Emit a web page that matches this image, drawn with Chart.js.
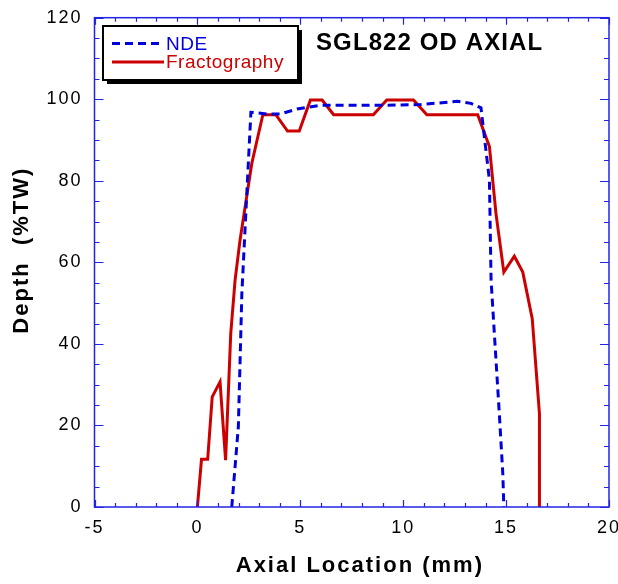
<!DOCTYPE html>
<html>
<head>
<meta charset="utf-8">
<script src="https://cdn.jsdelivr.net/npm/chart.js@4.4.1/dist/chart.umd.min.js"></script>
<style>
  html, body { margin: 0; padding: 0; background: #ffffff; }
  #wrap { width: 618px; height: 584px; }
</style>
</head>
<body>
<div id="wrap"><canvas id="c" width="618" height="584"></canvas></div>
<script>
// ---- data ----
const chartTitle = 'SGL822 OD AXIAL';
const xAxisTitle = '  Axial Location (mm)';
const yAxisTitle = '   Depth  (%TW)';
const seriesNames = ['NDE', 'Fractography'];

const ndeX = [1.67, 1.99, 2.16, 2.40, 2.60, 3.38, 4.02, 4.84, 5.98, 8.90, 10.85, 12.64, 13.29, 13.78, 14.19, 14.27, 14.43, 14.67, 14.84, 14.89];
const ndeY = [0, 19.7, 52.3, 76.8, 96.8, 96.4, 96.4, 97.6, 98.5, 98.5, 98.7, 99.5, 99.0, 97.9, 80.1, 55.6, 42.5, 22.9, 8.2, 0];

const fracX = [0.0, 0.2, 0.5, 0.72, 1.1, 1.37, 1.62, 1.83, 2.07, 2.64, 3.18, 3.81, 4.38, 4.95, 5.49, 6.06, 6.62, 8.55, 9.2, 10.5, 11.15, 13.62, 14.19, 14.51, 14.89, 15.4, 15.81, 16.27, 16.62, 16.62];
const fracY = [0, 11.7, 11.7, 27.0, 30.7, 11.5, 42.5, 55.6, 65.4, 84.2, 96.2, 96.2, 92.2, 92.2, 99.8, 99.8, 96.2, 96.2, 99.8, 99.8, 96.2, 96.2, 88.4, 71.9, 57.6, 61.5, 57.6, 46.2, 22.9, 0];

const xMin = -5, xMax = 20, xMajor = 5, xMinor = 1;
const yMin = 0, yMax = 120, yMajor = 20, yMinor = 5;

const FONT = '"Liberation Sans", Arial, Helvetica, sans-serif';
const FRAME = '#2323e6';
const BLUE = '#0000dd';
const RED = '#cc0000';

const toPts = (xs, ys) => xs.map((x, i) => ({ x: x, y: ys[i] }));

const framePlugin = {
  id: 'frameTicks',
  beforeDraw(chart) {
    chart.ctx.letterSpacing = '2px';
  },
  afterDatasetsDraw(chart) {
    const ctx = chart.ctx;
    const a = chart.chartArea;
    const xs = chart.scales.x, ys = chart.scales.y;
    ctx.save();
    ctx.strokeStyle = FRAME;
    ctx.lineWidth = 1.5;
    ctx.strokeRect(a.left, a.top, a.right - a.left, a.bottom - a.top);
    ctx.lineWidth = 1.2;
    ctx.beginPath();
    for (let v = xMin; v <= xMax + 1e-9; v += xMinor) {
      const isMajor = Math.abs(v / xMajor - Math.round(v / xMajor)) < 1e-6;
      const len = isMajor ? 7 : 4;
      const px = Math.round(xs.getPixelForValue(v)) + 0.5;
      ctx.moveTo(px, a.bottom); ctx.lineTo(px, a.bottom - len);
      ctx.moveTo(px, a.top); ctx.lineTo(px, a.top + len);
    }
    for (let v = yMin; v <= yMax + 1e-9; v += yMinor) {
      const isMajor = Math.abs(v / yMajor - Math.round(v / yMajor)) < 1e-6;
      const len = isMajor ? 9 : 5;
      const py = Math.round(ys.getPixelForValue(v)) + 0.5;
      ctx.moveTo(a.left, py); ctx.lineTo(a.left + len, py);
      ctx.moveTo(a.right, py); ctx.lineTo(a.right - len, py);
    }
    ctx.stroke();
    ctx.restore();
  },
  afterDraw(chart) {
    const ctx = chart.ctx;
    ctx.save();
    // legend box with drop shadow
    const bx = 103, by = 26, bw = 195, bh = 54;
    ctx.fillStyle = '#000';
    ctx.fillRect(bx + 4, by + 4, bw, bh);
    ctx.fillStyle = '#fff';
    ctx.fillRect(bx, by, bw, bh);
    ctx.strokeStyle = '#000';
    ctx.lineWidth = 2;
    ctx.strokeRect(bx, by, bw, bh);
    const dsets = chart.data.datasets;
    const rowsY = [43.5, 62];
    dsets.forEach((ds, i) => {
      ctx.beginPath();
      ctx.strokeStyle = ds.borderColor;
      ctx.lineWidth = 3;
      ctx.setLineDash(ds.borderDash || []);
      ctx.moveTo(112, rowsY[i]); ctx.lineTo(164, rowsY[i]);
      ctx.stroke();
      ctx.setLineDash([]);
      ctx.fillStyle = ds.borderColor;
      ctx.font = '19px ' + FONT;
      ctx.letterSpacing = '0.5px';
      ctx.textAlign = 'left';
      ctx.textBaseline = 'middle';
      ctx.fillText(ds.label, 166, rowsY[i] + 1);
    });
    // chart title inside plot
    ctx.fillStyle = '#000';
    ctx.font = 'bold 24px ' + FONT;
    ctx.letterSpacing = '1.1px';
    ctx.textAlign = 'left';
    ctx.textBaseline = 'alphabetic';
    ctx.fillText(chartTitle, 316, 50);
    ctx.restore();
  }
};

new Chart(document.getElementById('c'), {
  type: 'scatter',
  data: {
    datasets: [
      {
        label: seriesNames[0],
        data: toPts(ndeX, ndeY),
        showLine: true,
        borderColor: BLUE,
        backgroundColor: BLUE,
        borderWidth: 3,
        borderDash: [8, 5],
        pointRadius: 0,
        tension: 0
      },
      {
        label: seriesNames[1],
        data: toPts(fracX, fracY),
        showLine: true,
        borderColor: RED,
        backgroundColor: RED,
        borderWidth: 3,
        pointRadius: 0,
        tension: 0
      }
    ]
  },
  options: {
    responsive: false,
    animation: false,
    devicePixelRatio: 1,
    layout: { padding: { left: 0, top: 17.7, right: 9, bottom: 0 } },
    plugins: {
      legend: { display: false },
      tooltip: { enabled: false },
      title: { display: false }
    },
    scales: {
      x: {
        type: 'linear',
        min: xMin, max: xMax,
        ticks: {
          stepSize: xMajor,
          color: '#000',
          font: { family: FONT, size: 18 },
          padding: 10,
          maxRotation: 0,
          autoSkip: false
        },
        grid: { display: true, drawOnChartArea: false, drawTicks: false, color: 'rgba(0,0,0,0)' },
        border: { display: false },
        title: {
          display: true,
          text: xAxisTitle,
          color: '#000',
          font: { family: FONT, size: 22, weight: 'bold' },
          padding: { top: 0, bottom: 5 }
        },
        afterFit(s) { s.height = 77; s.paddingLeft = 0; s.paddingRight = 0; }
      },
      y: {
        type: 'linear',
        min: yMin, max: yMax,
        ticks: {
          stepSize: yMajor,
          color: '#000',
          font: { family: FONT, size: 18 },
          padding: 12
        },
        grid: { display: true, drawOnChartArea: false, drawTicks: false, color: 'rgba(0,0,0,0)' },
        border: { display: false },
        title: {
          display: true,
          text: yAxisTitle,
          color: '#000',
          font: { family: FONT, size: 22, weight: 'bold' },
          padding: { top: 9, bottom: 0 }
        },
        afterFit(s) { s.width = 94.5; s.paddingTop = 0; s.paddingBottom = 0; }
      }
    }
  },
  plugins: [framePlugin]
});
</script>
</body>
</html>
